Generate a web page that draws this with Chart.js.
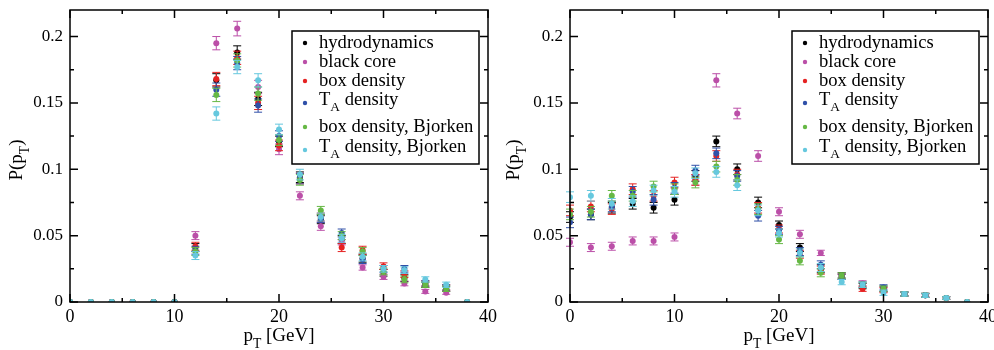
<!DOCTYPE html>
<html>
<head>
<meta charset="utf-8">
<script src="https://cdn.jsdelivr.net/npm/chart.js@4/dist/chart.umd.min.js"></script>
<style>
  html, body { margin: 0; padding: 0; background: #fff; }
  .panel { position: absolute; top: 0; width: 497px; height: 350px; }
  #leftPanel { left: 0; }
  #rightPanel { left: 497px; }
</style>
</head>
<body>
<div class="panel" id="leftPanel"><canvas id="leftChart" width="497" height="350"></canvas></div>
<div class="panel" id="rightPanel"><canvas id="rightChart" width="497" height="350"></canvas></div>
<script>
// p_T bins [GeV]
const pT = [0, 2, 4, 6, 8, 10, 12, 14, 16, 18, 20, 22, 24, 26, 28, 30, 32, 34, 36, 38];

const seriesNames = ['hydrodynamics', 'black core', 'box density', 'T_A density', 'box density, Bjorken', 'T_A density, Bjorken'];
const seriesColors = ['#000000', '#bb4fa8', '#e52222', '#3050a8', '#66b845', '#66c8de'];

// left panel
const hydroL  = [0, 0, 0, 0, 0, 0, 0.041, 0.167, 0.188, 0.153, 0.121, 0.094, 0.062, 0.047, 0.033, 0.022, 0.018, 0.013, 0.010, 0];
const coreL   = [0, 0, 0, 0, 0, 0, 0.050, 0.195, 0.206, 0.162, 0.115, 0.080, 0.057, 0.045, 0.026, 0.019, 0.014, 0.008, 0.007, 0];
const boxL    = [0, 0, 0, 0, 0, 0, 0.042, 0.168, 0.184, 0.150, 0.118, 0.093, 0.064, 0.041, 0.039, 0.027, 0.021, 0.014, 0.011, 0];
const taL     = [0, 0, 0, 0, 0, 0, 0.039, 0.160, 0.180, 0.148, 0.125, 0.093, 0.063, 0.052, 0.032, 0.025, 0.025, 0.014, 0.011, 0];
const boxBjL  = [0, 0, 0, 0, 0, 0, 0.038, 0.156, 0.182, 0.157, 0.122, 0.092, 0.069, 0.050, 0.038, 0.023, 0.017, 0.013, 0.010, 0];
const taBjL   = [0, 0, 0, 0, 0, 0, 0.035, 0.142, 0.177, 0.167, 0.130, 0.096, 0.064, 0.048, 0.034, 0.025, 0.024, 0.017, 0.013, 0];
const errL     = [0, 0, 0, 0, 0, 0, 0.003, 0.005, 0.005, 0.005, 0.004, 0.004, 0.003, 0.003, 0.003, 0.0025, 0.0025, 0.002, 0.002, 0];
const errCoreL = [0, 0, 0, 0, 0, 0, 0.003, 0.005, 0.0055, 0.005, 0.004, 0.003, 0.003, 0.002, 0.002, 0.002, 0.0018, 0.0015, 0.0012, 0];

// right panel
const hydroR  = [0.064, 0.066, 0.071, 0.074, 0.071, 0.077, 0.095, 0.121, 0.100, 0.075, 0.058, 0.041, 0.025, 0.020, 0.012, 0.010, 0.006, 0.005, 0.003, 0];
const coreR   = [0.045, 0.041, 0.042, 0.046, 0.046, 0.049, 0.092, 0.167, 0.142, 0.110, 0.068, 0.051, 0.037, 0.019, 0.014, 0.009, 0.006, 0.005, 0.003, 0];
const boxR    = [0.069, 0.072, 0.070, 0.085, 0.080, 0.090, 0.092, 0.110, 0.096, 0.071, 0.055, 0.036, 0.024, 0.019, 0.010, 0.009, 0.006, 0.005, 0.003, 0];
const taR     = [0.060, 0.066, 0.072, 0.083, 0.077, 0.086, 0.099, 0.112, 0.095, 0.065, 0.054, 0.038, 0.028, 0.019, 0.013, 0.011, 0.006, 0.005, 0.003, 0];
const boxBjR  = [0.066, 0.068, 0.080, 0.080, 0.087, 0.085, 0.090, 0.102, 0.092, 0.070, 0.047, 0.031, 0.022, 0.020, 0.013, 0.010, 0.006, 0.005, 0.003, 0];
const taBjR   = [0.079, 0.080, 0.074, 0.076, 0.084, 0.083, 0.097, 0.098, 0.088, 0.069, 0.052, 0.037, 0.026, 0.015, 0.013, 0.007, 0.006, 0.005, 0.003, 0];
const errR     = [0.004, 0.004, 0.004, 0.004, 0.004, 0.004, 0.004, 0.004, 0.004, 0.004, 0.003, 0.003, 0.003, 0.002, 0.002, 0.002, 0.0015, 0.0015, 0.001, 0];
const errCoreR = [0.003, 0.003, 0.003, 0.003, 0.003, 0.003, 0.004, 0.005, 0.004, 0.004, 0.003, 0.003, 0.002, 0.002, 0.002, 0.0015, 0.0012, 0.001, 0.001, 0];

// axes
const xTicks = [0, 10, 20, 30, 40];
const xMinorTicks = [5, 15, 25, 35];
const yTicks = [0, 0.05, 0.1, 0.15, 0.2];
const yTickLabels = ['0', '0.05', '0.1', '0.15', '0.2'];
const yMinorTicks = [0.025, 0.075, 0.125, 0.175];

const SERIF = '"Liberation Serif", "DejaVu Serif", serif';

// text with "_X" subscripts, e.g. "T_A density"
function splitSub(label) {
  const m = label.match(/^(.*?)_(\w)(.*)$/);
  if (!m) return [[label, false]];
  return [[m[1], false], [m[2], true], [m[3], false]];
}

function richWidth(ctx, parts, size) {
  let w = 0;
  parts.forEach(([t, sub]) => {
    ctx.font = (sub ? size * 0.72 : size) + 'px ' + SERIF;
    w += ctx.measureText(t).width;
  });
  return w;
}

function drawRich(ctx, parts, x, y, size) {
  let cx = x;
  parts.forEach(([t, sub]) => {
    ctx.font = (sub ? size * 0.72 : size) + 'px ' + SERIF;
    ctx.fillText(t, cx, sub ? y + size * 0.42 : y);
    cx += ctx.measureText(t).width;
  });
}

const errorBarPlugin = {
  id: 'errorBars',
  beforeDatasetDraw(chart, args) {
    const ctx = chart.ctx;
    const ds = chart.data.datasets[args.index];
    const ys = chart.scales.y;
    ctx.save();
    ctx.strokeStyle = ds.backgroundColor;
    ctx.lineWidth = 1;
    args.meta.data.forEach((pt, i) => {
      const e = ds.errors[i];
      if (!e) return;
      const v = ds.data[i].y;
      const top = ys.getPixelForValue(v + e);
      const bot = ys.getPixelForValue(v - e);
      ctx.beginPath();
      ctx.moveTo(pt.x, top); ctx.lineTo(pt.x, bot);
      ctx.moveTo(pt.x - 4, top); ctx.lineTo(pt.x + 4, top);
      ctx.moveTo(pt.x - 4, bot); ctx.lineTo(pt.x + 4, bot);
      ctx.stroke();
    });
    ctx.restore();
  }
};

const framePlugin = {
  id: 'frame',
  afterDraw(chart) {
    const ctx = chart.ctx;
    const a = chart.chartArea;
    const xs = chart.scales.x, ys = chart.scales.y;
    ctx.save();
    ctx.strokeStyle = '#000';
    ctx.lineWidth = 1.5;
    ctx.strokeRect(a.left, a.top, a.right - a.left, a.bottom - a.top);
    ctx.beginPath();
    const xMark = (v, len) => {
      const px = xs.getPixelForValue(v);
      ctx.moveTo(px, a.bottom); ctx.lineTo(px, a.bottom - len);
      ctx.moveTo(px, a.top); ctx.lineTo(px, a.top + len);
    };
    const yMark = (v, len) => {
      const py = ys.getPixelForValue(v);
      ctx.moveTo(a.left, py); ctx.lineTo(a.left + len, py);
      ctx.moveTo(a.right, py); ctx.lineTo(a.right - len, py);
    };
    xTicks.forEach(v => xMark(v, 8));
    xMinorTicks.forEach(v => xMark(v, 4));
    yTicks.forEach(v => yMark(v, 8));
    yMinorTicks.forEach(v => yMark(v, 4));
    ctx.stroke();

    // axis titles
    ctx.fillStyle = '#000';
    ctx.textBaseline = 'middle';
    const xt = splitSub('p_T [GeV]');
    const xw = richWidth(ctx, xt, 19);
    drawRich(ctx, xt, (a.left + a.right) / 2 - xw / 2, 336, 19);
    const yt = [['P(p', false], ['T', true], [')', false]];
    const yw = richWidth(ctx, yt, 19);
    ctx.translate(17, (a.top + a.bottom) / 2 + 4);
    ctx.rotate(-Math.PI / 2);
    drawRich(ctx, yt, -yw / 2, 0, 19);
    ctx.restore();
  }
};

const legendPlugin = {
  id: 'boxLegend',
  afterDraw(chart) {
    const ctx = chart.ctx;
    const a = chart.chartArea;
    const w = 187, h = 133;
    const left = a.right - 9 - w, top = a.top + 21;
    const rowY = [12, 31, 50, 69, 96, 116];
    ctx.save();
    ctx.fillStyle = '#fff';
    ctx.fillRect(left, top, w, h);
    ctx.strokeStyle = '#000';
    ctx.lineWidth = 1.5;
    ctx.strokeRect(left, top, w, h);
    ctx.textBaseline = 'middle';
    seriesNames.forEach((name, i) => {
      const parts = splitSub(name);
      const y = top + rowY[i];
      ctx.fillStyle = seriesColors[i];
      ctx.beginPath();
      ctx.arc(left + 13, y + (parts.length > 1 ? 3 : 0), 2.2, 0, Math.PI * 2);
      ctx.fill();
      ctx.fillStyle = '#000';
      drawRich(ctx, parts, left + 27, y, 18.6);
    });
    ctx.restore();
  }
};

function makePanel(canvasId, values, errs, coreErrs, yAxisWidth, rightPad) {
  const datasets = values.map((vals, i) => ({
    label: seriesNames[i],
    data: pT.map((x, j) => ({ x: x, y: vals[j] })),
    errors: i === 1 ? coreErrs : errs,
    backgroundColor: seriesColors[i],
    borderColor: seriesColors[i],
    pointRadius: 3,
    pointBorderWidth: 0,
    pointHoverRadius: 3,
    showLine: false,
    order: values.length - i
  }));

  return new Chart(document.getElementById(canvasId), {
    type: 'scatter',
    data: { datasets: datasets },
    options: {
      responsive: false,
      animation: false,
      devicePixelRatio: 1,
      layout: { padding: { top: 10, right: rightPad, left: 0, bottom: 0 } },
      plugins: { legend: { display: false }, tooltip: { enabled: false } },
      scales: {
        x: {
          type: 'linear', min: 0, max: 40,
          grid: { display: false, drawTicks: false }, border: { display: false },
          afterBuildTicks: s => { s.ticks = xTicks.map(v => ({ value: v })); },
          afterFit: s => { s.height = 48; s.paddingLeft = 0; s.paddingRight = 0; },
          ticks: { color: '#000', padding: 4, maxRotation: 0, autoSkip: false,
                   font: { family: SERIF, size: 18 } }
        },
        y: {
          type: 'linear', min: 0, max: 0.22,
          grid: { display: false, drawTicks: false }, border: { display: false },
          afterBuildTicks: s => { s.ticks = yTicks.map(v => ({ value: v })); },
          afterFit: s => { s.width = yAxisWidth; s.paddingTop = 0; s.paddingBottom = 0; },
          ticks: { color: '#000', padding: 7, autoSkip: false,
                   font: { family: SERIF, size: 17 },
                   callback: (v, i) => yTickLabels[i] }
        }
      }
    },
    plugins: [errorBarPlugin, framePlugin, legendPlugin]
  });
}

makePanel('leftChart', [hydroL, coreL, boxL, taL, boxBjL, taBjL], errL, errCoreL, 70, 9);
makePanel('rightChart', [hydroR, coreR, boxR, taR, boxBjR, taBjR], errR, errCoreR, 73, 6);
</script>
</body>
</html>
